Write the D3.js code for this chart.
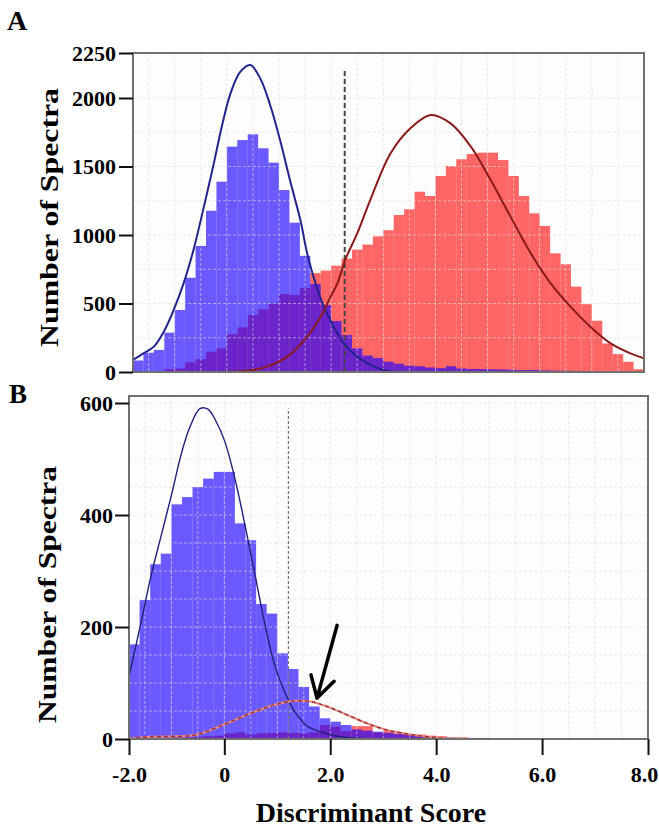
<!DOCTYPE html>
<html>
<head>
<meta charset="utf-8">
<script src="https://cdn.jsdelivr.net/npm/d3@7"></script>
<style>
  body { margin: 0; background: #fff; }
  svg text { font-family: "Liberation Serif", "Times New Roman", serif; font-weight: bold; fill: #000; }
</style>
</head>
<body>
<div id="chart"></div>
<script>
// left edge of each histogram bin (bin width 0.2)
var binLeft = [-1.8, -1.6, -1.4, -1.2, -1.0, -0.8, -0.6, -0.4, -0.2, 0.0,
  0.2, 0.4, 0.6, 0.8, 1.0, 1.2, 1.4, 1.6, 1.8, 2.0,
  2.2, 2.4, 2.6, 2.8, 3.0, 3.2, 3.4, 3.6, 3.8, 4.0,
  4.2, 4.4, 4.6, 4.8, 5.0, 5.2, 5.4, 5.6, 5.8, 6.0,
  6.2, 6.4, 6.6, 6.8, 7.0, 7.2, 7.4, 7.6, 7.8];
var binWidth = 0.2;

// panel A counts
var blueA = [84, 141, 161, 287, 453, 688, 920, 1177, 1389, 1645,
  1693, 1735, 1633, 1528, 1328, 1090, 848, 642, 489, 372,
  269, 173, 120, 102, 75, 60, 46, 42, 33, 28,
  42, 26, 22, 21, 20, 18, 16, 14, 15, 12,
  10, 9, 8, 6, 6, 5, 4, 3, 2];
var redA = [0, 0, 4, 20, 26, 71, 93, 148, 173, 277,
  326, 416, 458, 501, 569, 562, 613, 722, 740, 776,
  828, 893, 930, 990, 1035, 1146, 1188, 1316, 1285, 1431,
  1504, 1553, 1591, 1601, 1601, 1547, 1431, 1285, 1158, 1066,
  866, 786, 623, 495, 374, 208, 131, 75, 20];

// panel B counts
var blueB = [169, 248, 312, 331, 419, 432, 450, 465, 477, 477,
  385, 355, 241, 224, 153, 125, 93, 58, 37, 31,
  25, 17, 15, 13, 11, 9, 7, 5, 4, 3,
  2, 1, 1, 1, 0, 0, 0, 0, 0, 0,
  0, 0, 0, 0, 0, 0, 0, 0, 0];
var redB = [0, 0, 0, 2, 3, 3, 4, 5, 6, 10,
  12, 8, 10, 11, 12, 11, 10, 12, 25, 22,
  14, 23, 23, 12, 15, 10, 9, 8, 6, 5,
  3, 3, 2, 2, 1, 1, 0, 0, 0, 0,
  0, 0, 0, 0, 0, 0, 0, 0, 0];

// fitted curves: [score, count]
var blueCurveA = [[-1.8, 88], [-1.6, 136], [-1.4, 185], [-1.21, 294], [-1.02, 453], [-0.83, 647],
  [-0.64, 891], [-0.44, 1207], [-0.25, 1523], [-0.09, 1803], [0.07, 2026], [0.26, 2146],
  [0.45, 2183], [0.64, 2109], [0.83, 1949], [1.02, 1693], [1.21, 1401], [1.41, 1109],
  [1.54, 866], [1.70, 647], [1.86, 477], [2.05, 331], [2.24, 209], [2.50, 112],
  [2.82, 39], [3.14, 4], [3.6, 0], [4.2, 0]];
var redCurveA = [[0.0, 2], [0.39, 9], [0.77, 39], [1.16, 112], [1.54, 258], [1.80, 404],
  [1.99, 550], [2.12, 647], [2.27, 818], [2.50, 1012], [2.75, 1255], [3.14, 1596],
  [3.52, 1779], [3.91, 1876], [4.29, 1815], [4.68, 1645], [5.06, 1401], [5.44, 1134],
  [5.83, 866], [6.21, 647], [6.59, 477], [6.97, 331], [7.36, 209], [7.74, 136], [8.0, 100]];
var blueCurveB = [[-1.8, 112], [-1.57, 209], [-1.38, 293], [-1.19, 364], [-1.00, 435], [-0.81, 510],
  [-0.65, 557], [-0.46, 590], [-0.31, 589], [-0.15, 566], [0.01, 531], [0.20, 465],
  [0.39, 382], [0.58, 293], [0.77, 203], [0.95, 132], [1.14, 84], [1.33, 49],
  [1.58, 22], [1.81, 13], [2.13, 5], [2.57, 1], [3.2, 0]];
var redCurveB = [[-1.8, 1], [-1.38, 4], [-0.56, 7], [-0.18, 19], [0.20, 34], [0.58, 49],
  [0.95, 61], [1.31, 68], [1.62, 67], [1.94, 58], [2.32, 43], [2.69, 28],
  [3.07, 16], [3.45, 9], [3.83, 4], [4.21, 1], [4.6, 0], [8.0, 0]];

// thresholds (dashed lines): [score, top count]
var cutA = [2.26, 2167];
var cutB = [1.21, 590];
// arrow in panel B: from [score, count] to [score, count]
var arrowB = [[2.13, 203], [1.75, 73]];

// ticks
var yTicksA = [0, 500, 1000, 1500, 2000, 2250];
var yTicksB = [0, 200, 400, 600];
var xTicks = [-1.8, 0, 2, 4, 6, 8];
var xTickLabels = ["-2.0", "0", "2.0", "4.0", "6.0", "8.0"];

var W = 659, H = 826;
var svg = d3.select("#chart").append("svg").attr("width", W).attr("height", H);

// scales
var xA = d3.scaleLinear().domain([-1.8, 8]).range([133, 644]);
var yA = d3.scaleLinear().domain([0, 2000, 2250]).range([372, 98, 53]);
var xB = d3.scaleLinear().domain([-1.8, 8]).range([129, 648]);
var yB = d3.scaleLinear().domain([0, 600]).range([739, 403]);

var boxA = {l: 133, r: 644, t: 53, b: 372};
var boxB = {l: 129, r: 648, t: 396, b: 739};

function drawPanel(x, y, box, blue, red, hGrid, id) {
  var g = svg.append("g");

  g.append("rect")
    .attr("x", box.l).attr("y", box.t)
    .attr("width", box.r - box.l).attr("height", box.b - box.t)
    .attr("fill", "#fdfdfd");

  g.append("clipPath").attr("id", "clip" + id)
    .append("rect")
    .attr("x", box.l).attr("y", box.t)
    .attr("width", box.r - box.l).attr("height", box.b - box.t);

  var plot = g.append("g").attr("clip-path", "url(#clip" + id + ")");

  // red first, blue over it (overlap shows purple)
  plot.selectAll(".red").data(red).enter().append("rect")
    .attr("x", function(d, i) { return x(binLeft[i]); })
    .attr("width", function(d, i) { return x(binLeft[i] + binWidth) - x(binLeft[i]); })
    .attr("y", function(d) { return y(d); })
    .attr("height", function(d) { return y(0) - y(d); })
    .attr("fill", "#ff0000").attr("fill-opacity", 0.6);

  plot.selectAll(".blue").data(blue).enter().append("rect")
    .attr("x", function(d, i) { return x(binLeft[i]); })
    .attr("width", function(d, i) { return x(binLeft[i] + binWidth) - x(binLeft[i]); })
    .attr("y", function(d) { return y(d); })
    .attr("height", function(d) { return y(0) - y(d); })
    .attr("fill", "rgb(26,1,255)").attr("fill-opacity", 0.65);

  // light dashed grid, drawn over the translucent bars
  var vGrid = d3.range(-1.5, 8, 0.5);
  plot.selectAll(".vg").data(vGrid).enter().append("line")
    .attr("x1", function(d) { return x(d); }).attr("x2", function(d) { return x(d); })
    .attr("y1", box.t).attr("y2", box.b)
    .attr("stroke", "#dcdcdc").attr("stroke-opacity", 0.6)
    .attr("stroke-dasharray", "3,2").attr("stroke-width", 1);
  plot.selectAll(".hg").data(hGrid).enter().append("line")
    .attr("x1", box.l).attr("x2", box.r)
    .attr("y1", function(d) { return y(d); }).attr("y2", function(d) { return y(d); })
    .attr("stroke", "#dcdcdc").attr("stroke-opacity", 0.6)
    .attr("stroke-dasharray", "3,2").attr("stroke-width", 1);

  var line = d3.line()
    .x(function(d) { return x(d[0]); })
    .y(function(d) { return y(d[1]); })
    .curve(d3.curveCatmullRom);

  return {plot: plot, line: line};
}

var pA = drawPanel(xA, yA, boxA, blueA, redA, d3.range(250, 2001, 250), "A");
var pB = drawPanel(xB, yB, boxB, blueB, redB, d3.range(50, 601, 50), "B");

// threshold lines
pA.plot.append("line")
  .attr("x1", xA(cutA[0])).attr("x2", xA(cutA[0]))
  .attr("y1", yA(0)).attr("y2", yA(cutA[1]))
  .attr("stroke", "#444").attr("stroke-width", 2).attr("stroke-dasharray", "5,3");
pB.plot.append("line")
  .attr("x1", xB(cutB[0])).attr("x2", xB(cutB[0]))
  .attr("y1", yB(0)).attr("y2", yB(cutB[1]))
  .attr("stroke", "#777").attr("stroke-width", 1.2).attr("stroke-dasharray", "3,2");

// curves
pA.plot.append("path").datum(blueCurveA).attr("d", pA.line)
  .attr("fill", "none").attr("stroke", "#23238c").attr("stroke-width", 2);
pA.plot.append("path").datum(redCurveA).attr("d", pA.line)
  .attr("fill", "none").attr("stroke", "#8c1a1a").attr("stroke-width", 2);

pB.plot.append("path").datum(blueCurveB).attr("d", pB.line)
  .attr("fill", "none").attr("stroke", "#20207a").attr("stroke-width", 1.4);
pB.plot.append("path").datum(redCurveB).attr("d", pB.line)
  .attr("fill", "none").attr("stroke", "#e09090").attr("stroke-width", 2.2);
pB.plot.append("path").datum(redCurveB).attr("d", pB.line)
  .attr("fill", "none").attr("stroke", "#a52a2a").attr("stroke-width", 1.4)
  .attr("stroke-dasharray", "4,3");

// frames
[boxA, boxB].forEach(function(b) {
  svg.append("rect")
    .attr("x", b.l).attr("y", b.t)
    .attr("width", b.r - b.l).attr("height", b.b - b.t)
    .attr("fill", "none").attr("stroke", "#707070").attr("stroke-width", 2);
});

// axes
function styleAxis(sel) {
  sel.select(".domain").remove();
  sel.selectAll(".tick line").attr("stroke", "#111").attr("stroke-width", 2);
  sel.selectAll(".tick text")
    .style("font-family", "'Liberation Serif', 'Times New Roman', serif")
    .style("font-weight", "bold").style("font-size", "22px").attr("fill", "#000");
}

svg.append("g")
  .attr("transform", "translate(" + boxA.l + ",0)")
  .call(d3.axisLeft(yA).tickValues(yTicksA).tickSize(14).tickPadding(3).tickFormat(d3.format("d")))
  .call(styleAxis);

svg.append("g")
  .attr("transform", "translate(" + boxB.l + ",0)")
  .call(d3.axisLeft(yB).tickValues(yTicksB).tickSize(14).tickPadding(2).tickFormat(d3.format("d")))
  .call(styleAxis);

var xAxisB = svg.append("g")
  .attr("transform", "translate(0," + boxB.b + ")")
  .call(d3.axisBottom(xB).tickValues(xTicks).tickSize(16).tickPadding(11)
    .tickFormat(function(d, i) { return xTickLabels[i]; }))
  .call(styleAxis);
// last label sits a little left of its tick, inside the page
xAxisB.selectAll(".tick text").attr("dx", function(d, i) { return i === xTicks.length - 1 ? -4 : 0; });

// arrow annotation in B
var ax0 = xB(arrowB[0][0]), ay0 = yB(arrowB[0][1]);
var ax1 = xB(arrowB[1][0]), ay1 = yB(arrowB[1][1]);
var ang = Math.atan2(ay0 - ay1, ax0 - ax1);
var barb = 24, spread = Math.PI / 6;
var arrowPath = "M" + ax0 + "," + ay0 + "L" + ax1 + "," + ay1 +
  "M" + (ax1 + barb * Math.cos(ang + spread)) + "," + (ay1 + barb * Math.sin(ang + spread)) +
  "L" + ax1 + "," + ay1 +
  "L" + (ax1 + barb * Math.cos(ang - spread)) + "," + (ay1 + barb * Math.sin(ang - spread));
svg.append("path").attr("d", arrowPath)
  .attr("fill", "none").attr("stroke", "#000").attr("stroke-width", 3.5)
  .attr("stroke-linecap", "round").attr("stroke-linejoin", "round");

// titles and panel letters
svg.append("text").attr("x", 7).attr("y", 30).style("font-size", "28px").text("A");
svg.append("text").attr("x", 9).attr("y", 403).style("font-size", "27px").text("B");

svg.append("text")
  .attr("transform", "translate(58,217.5) rotate(-90)")
  .attr("text-anchor", "middle")
  .attr("textLength", 259).attr("lengthAdjust", "spacingAndGlyphs")
  .style("font-size", "26px").text("Number of Spectra");

svg.append("text")
  .attr("transform", "translate(56,594.5) rotate(-90)")
  .attr("text-anchor", "middle")
  .attr("textLength", 257).attr("lengthAdjust", "spacingAndGlyphs")
  .style("font-size", "26px").text("Number of Spectra");

svg.append("text")
  .attr("x", 371).attr("y", 821.5)
  .attr("text-anchor", "middle")
  .style("font-size", "28px").text("Discriminant Score");
</script>
</body>
</html>
